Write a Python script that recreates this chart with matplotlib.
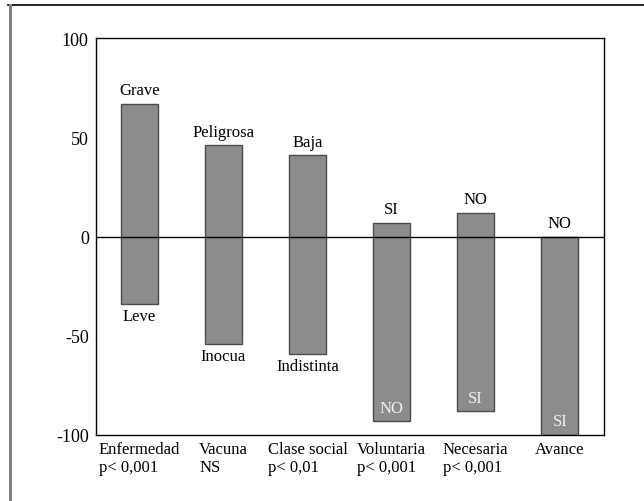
import numpy as np
import matplotlib
matplotlib.use("Agg")
from matplotlib import pyplot as plt
from matplotlib.lines import Line2D

plt.rcParams['font.family'] = ['Liberation Serif', 'DejaVu Serif']

# Data
categories = ["Enfermedad", "Vacuna", "Clase social", "Voluntaria", "Necesaria", "Avance"]
tests = ["p< 0,001", "NS", "p< 0,01", "p< 0,001", "p< 0,001", ""]
top_vals = [67, 46, 41, 7, 12, 0]
bottom_vals = [-34, -54, -59, -93, -88, -100]
top_labels = ["Grave", "Peligrosa", "Baja", "SI", "NO", "NO"]
bottom_labels = ["Leve", "Inocua", "Indistinta", "NO", "SI", "SI"]
inside_bottom = [False, False, False, True, True, True]

fig = plt.figure(figsize=(6.44, 5.02), dpi=100)
ax = fig.add_axes([0.1486, 0.1315, 0.7898, 0.7902])

x = np.arange(len(categories))
heights = np.array(top_vals) - np.array(bottom_vals)
ax.bar(x, heights, bottom=bottom_vals, width=0.436, color='#8c8c8c',
       edgecolor='#4a4a4a', linewidth=1.0, zorder=2)
ax.axhline(0, color='black', linewidth=1.0, zorder=3)

for i in range(len(categories)):
    ax.annotate(top_labels[i], (x[i], top_vals[i]), xytext=(0, 4),
                textcoords='offset points', ha='center', va='bottom', fontsize=12)
    if inside_bottom[i]:
        ax.annotate(bottom_labels[i], (x[i], bottom_vals[i]), xytext=(0, 4),
                    textcoords='offset points', ha='center', va='bottom',
                    fontsize=12, color='#f2f2f2', zorder=4)
    else:
        ax.annotate(bottom_labels[i], (x[i], bottom_vals[i]), xytext=(0, -3),
                    textcoords='offset points', ha='center', va='top', fontsize=12)

ax.set_xlim(-0.52, 5.53)
ax.set_ylim(-100, 100)
ax.set_yticks([-100, -50, 0, 50, 100])
ax.set_yticklabels(["-100", "-50", "0", "50", "100"], fontsize=13)
ax.set_xticks(x)
ax.set_xticklabels([c + "\n" + t for c, t in zip(categories, tests)], fontsize=12)
for lab in ax.get_xticklabels():
    lab.set_multialignment('left')
    lab.set_verticalalignment('top')
ax.tick_params(axis='both', length=0)
ax.tick_params(axis='y', pad=5)
ax.tick_params(axis='x', pad=4)
for s in ax.spines.values():
    s.set_linewidth(1.0)

# outer frame (top and left only)
fig.add_artist(Line2D([8 / 644, 1.0], [1 - 6 / 502, 1 - 6 / 502], color='black', linewidth=1.2))
fig.add_artist(Line2D([9.5 / 644, 9.5 / 644], [0, 1 - 6 / 502], color='#808080', linewidth=2.2))

fig.savefig("out.png", dpi=100)
